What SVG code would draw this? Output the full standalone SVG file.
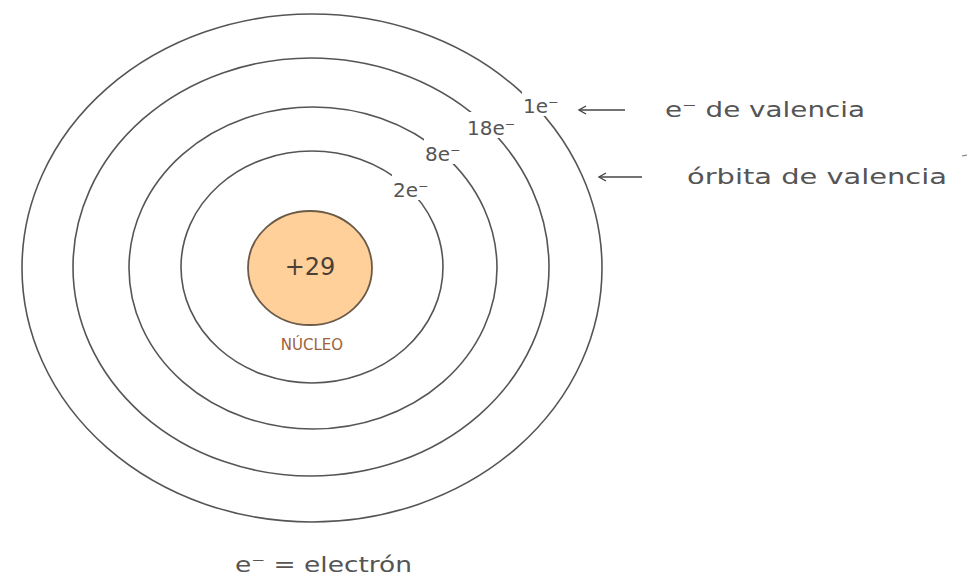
<svg xmlns="http://www.w3.org/2000/svg" width="972" height="576" viewBox="0 0 972 576">
<style>
.ring{fill:none;stroke:#555;stroke-width:1.6}
.t{font-family:"DejaVu Sans","Liberation Sans",sans-serif;fill:#555}
.lab{font-size:20px}
.bg{fill:#fff}
.arr{stroke:#444;stroke-width:1.6;fill:none}
</style>
<defs>
<marker id="ah" markerWidth="10" markerHeight="10" refX="8" refY="5" orient="auto" markerUnits="userSpaceOnUse">
<path d="M1,1 L8,5 L1,9" fill="none" stroke="#444" stroke-width="1.4"/>
</marker>
</defs>
<rect width="972" height="576" fill="#fff"/>
<g id="orbits">
<ellipse class="ring" cx="312" cy="268" rx="290" ry="254"/>
<ellipse class="ring" cx="311" cy="267" rx="238" ry="209"/>
<ellipse class="ring" cx="313" cy="268" rx="184" ry="161"/>
<ellipse class="ring" cx="312" cy="267" rx="131" ry="116"/>
</g>
<g id="nucleus">
<ellipse cx="310" cy="268" rx="62" ry="57" fill="#FFD09A" stroke="#6b5a48" stroke-width="1.8"/>
<text class="t" x="310" y="275" font-size="24" text-anchor="middle" style="fill:#4a4036">+29</text>
<text class="t" x="312" y="350" font-size="15" text-anchor="middle" style="fill:#a0603a">NÚCLEO</text>
</g>
<g id="shell-labels">
<rect class="bg" x="392" y="174" width="36" height="26"/>
<text class="t lab" x="393" y="197">2e⁻</text>
<rect class="bg" x="424" y="138" width="36" height="26"/>
<text class="t lab" x="425" y="161">8e⁻</text>
<rect class="bg" x="466" y="112" width="44" height="26"/>
<text class="t lab" x="467" y="135">18e⁻</text>
<rect class="bg" x="522" y="90" width="36" height="26"/>
<text class="t lab" x="523" y="113">1e⁻</text>
</g>
<g id="connectors">
<line class="arr" x1="625" y1="110" x2="579" y2="110" marker-end="url(#ah)"/>
<line class="arr" x1="642" y1="177" x2="599" y2="177" marker-end="url(#ah)"/>
</g>
<g id="annotations">
<text class="t" x="665" y="117" font-size="21" textLength="200" lengthAdjust="spacingAndGlyphs">e⁻ de valencia</text>
<text class="t" x="687" y="184" font-size="21" textLength="260" lengthAdjust="spacingAndGlyphs">órbita de valencia</text>
<line x1="962" y1="156" x2="967" y2="155" stroke="#777" stroke-width="1.2"/>
<text class="t" x="235" y="572" font-size="21" textLength="177" lengthAdjust="spacingAndGlyphs">e⁻ = electrón</text>
</g>
</svg>
